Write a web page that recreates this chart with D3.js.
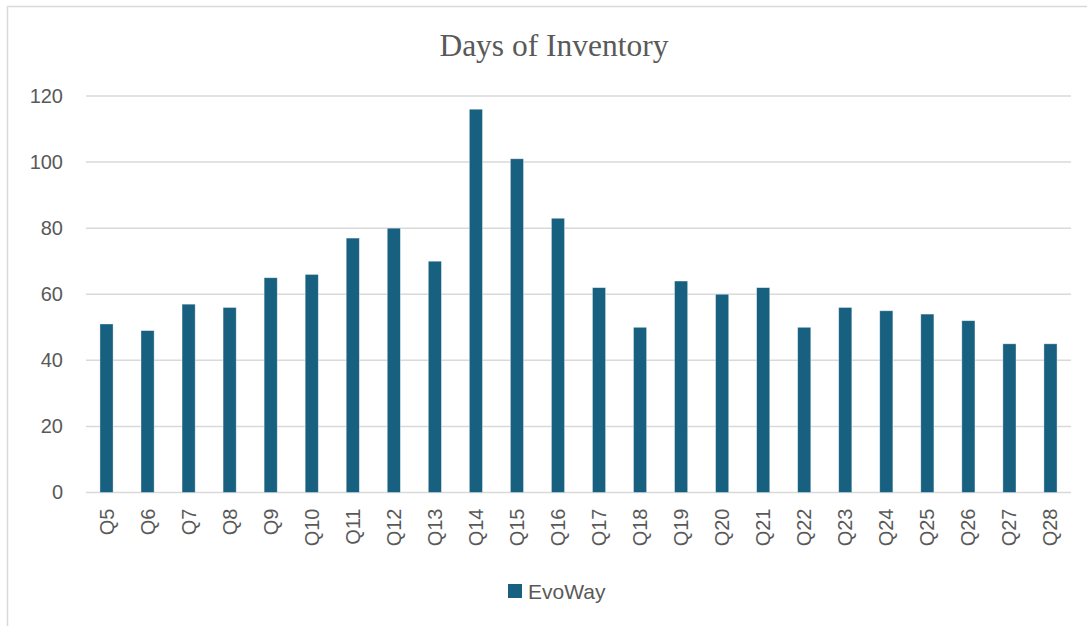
<!DOCTYPE html>
<html>
<head>
<meta charset="utf-8">
<script src="https://cdn.jsdelivr.net/npm/d3@7"></script>
<style>
	body { margin: 0; background: #fff; }
</style>
</head>
<body>
<div id="chart"></div>
<script>
'use strict';

// quarters and days of inventory for EvoWay
const quarters = ["Q5","Q6","Q7","Q8","Q9","Q10","Q11","Q12","Q13","Q14","Q15","Q16",
	"Q17","Q18","Q19","Q20","Q21","Q22","Q23","Q24","Q25","Q26","Q27","Q28"];
const evoway = [51,49,57,56,65,66,77,80,70,116,101,83,62,50,64,60,62,50,56,55,54,52,45,45];
const yTicks = [0,20,40,60,80,100,120];
const seriesName = "EvoWay";
const chartTitle = "Days of Inventory";

const width = 1087, height = 626;
const margin = { top: 96, right: 16, bottom: 133.5, left: 86 };
const textColor = "#595959";
const barColor = "#17607f";
const sans = "'Liberation Sans', Arial, sans-serif";

const svg = d3.select("#chart")
	.append("svg")
		.attr("width", width)
		.attr("height", height);

// chart area border (runs off right and bottom)
svg.append("rect")
	.attr("x", 7.5)
	.attr("y", 6.5)
	.attr("width", width + 10)
	.attr("height", height + 10)
	.attr("fill", "none")
	.attr("stroke", "#d9d9d9")
	.attr("stroke-width", 1.5);

const x = d3.scaleBand()
	.domain(quarters)
	.range([margin.left, width - margin.right])
	.paddingInner(0.68)
	.paddingOuter(0.34);

const y = d3.scaleLinear()
	.domain([0, 120])
	.range([height - margin.bottom, margin.top]);

// gridlines
svg.append("g")
	.selectAll("line")
	.data(yTicks)
	.join("line")
		.attr("x1", margin.left)
		.attr("x2", width - margin.right)
		.attr("y1", d => y(d))
		.attr("y2", d => y(d))
		.attr("stroke", "#d9d9d9")
		.attr("stroke-width", 1.5);

// bars
svg.append("g")
	.selectAll("rect")
	.data(evoway)
	.join("rect")
		.attr("x", (d, i) => x(quarters[i]))
		.attr("y", d => y(d))
		.attr("width", x.bandwidth())
		.attr("height", d => y(0) - y(d))
		.attr("fill", barColor)
		.attr("stroke", "#ffffff")
		.attr("stroke-opacity", 0.5)
		.attr("stroke-width", 0.75);

// y axis
const yAxis = svg.append("g")
	.attr("transform", `translate(${margin.left},0)`)
	.call(d3.axisLeft(y).tickValues(yTicks).tickSize(0).tickPadding(23));
yAxis.select(".domain").remove();
yAxis.selectAll("text")
	.attr("font-family", sans)
	.attr("font-size", 20)
	.attr("fill", textColor);

// x axis, rotated labels
const xAxis = svg.append("g")
	.attr("transform", `translate(0,${y(0)})`)
	.call(d3.axisBottom(x).tickSize(0).tickPadding(0));
xAxis.select(".domain").remove();
xAxis.selectAll("text")
	.attr("font-family", sans)
	.attr("font-size", 20)
	.attr("fill", textColor)
	.attr("text-anchor", "end")
	.attr("dy", "0.35em")
	.attr("transform", "translate(0,16) rotate(-90)");

// title
svg.append("text")
	.attr("x", 554)
	.attr("y", 56)
	.attr("text-anchor", "middle")
	.attr("font-family", "'Liberation Serif', 'Times New Roman', serif")
	.attr("font-size", 31.5)
	.attr("fill", textColor)
	.text(chartTitle);

// legend
const legend = svg.append("g")
	.attr("transform", "translate(508,584)");
legend.append("rect")
	.attr("width", 14)
	.attr("height", 14)
	.attr("fill", barColor);
legend.append("text")
	.attr("x", 20)
	.attr("y", 14.5)
	.attr("font-family", sans)
	.attr("font-size", 21)
	.attr("fill", textColor)
	.text(seriesName);
</script>
</body>
</html>
